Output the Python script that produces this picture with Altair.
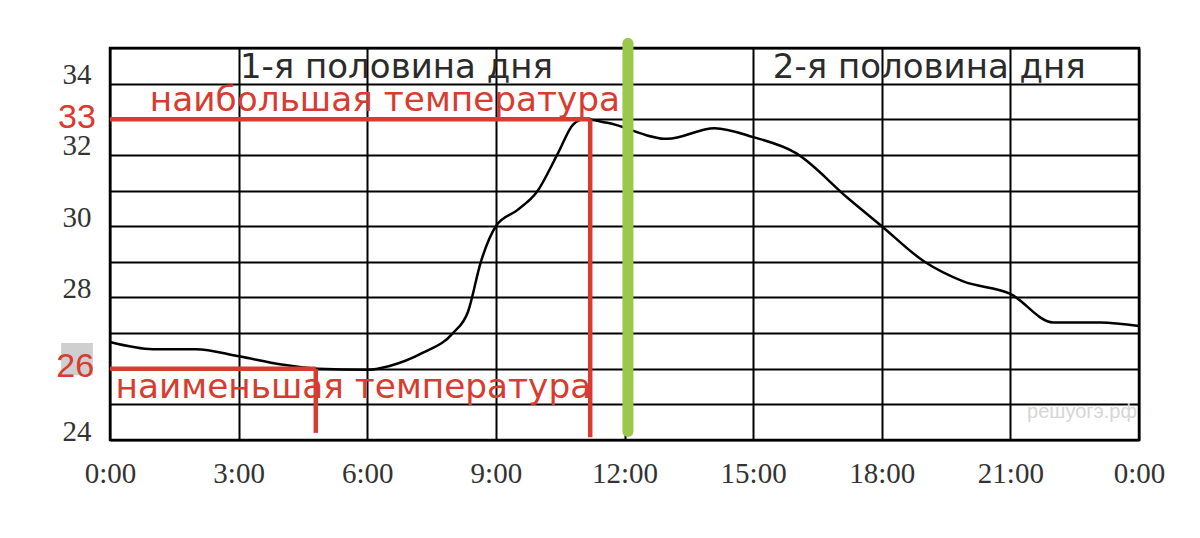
import altair as alt
import pandas as pd

# temperature curve (hour, °C)
hours = [0, 1, 2, 3, 4, 4.85, 6, 6.5, 7.3, 8.0, 8.35, 8.65, 9.0, 9.5, 9.95, 10.45, 10.8, 11.05,
         11.6, 13.0, 14.1, 15.0, 16.0, 17.2, 18.0, 19.0, 19.9, 21.0, 22.0, 23.1, 24.0]
temps = [26.75, 26.55, 26.55, 26.35, 26.12, 26.0, 25.97, 26.07, 26.45, 27.0, 27.6, 29.0, 30.0, 30.45,
         30.95, 32.05, 32.85, 33.0, 32.9, 32.45, 32.75, 32.5, 32.05, 30.8, 30.0, 29.0, 28.45, 28.1,
         27.3, 27.3, 27.2]

x_ticks = [0, 3, 6, 9, 12, 15, 18, 21, 24]
y_ticks = list(range(24, 36))

# annotation segments: x, x2, y, y2
red_x = [0, 11.2, 0, 4.8]
red_x2 = [11.2, 11.2, 4.8, 4.8]
red_y = [33, 33, 26, 26]
red_y2 = [33, 24.08, 26, 24.2]

green_x = [12.08]
green_y = [24.24]
green_y2 = [35.13]

half_text = ["1-я половина дня", "2-я половина дня"]
half_x = [3.03, 15.46]
half_y = [34.17, 34.17]

red_text = ["наибольшая температура", "наименьшая температура"]
red_text_x = [0.93, 0.13]
red_text_y = [33.24, 25.18]

num_text = ["33", "26"]
num_x = [-0.33, -0.37]
num_y = [32.75, 25.77]

box_x, box_x2 = [-1.14], [-0.4]
box_y, box_y2 = [25.82], [26.72]

wm_text = ["решуогэ.рф"]
wm_x = [21.39]
wm_y = [24.79]

RED = "#d83b2f"

xs = alt.Scale(domain=[0, 24], nice=False, zero=False)
ys = alt.Scale(domain=[24, 35], nice=False, zero=False)

x_axis = alt.Axis(values=x_ticks, labelExpr="(datum.value % 24) + ':00'", grid=True,
                  gridColor="black", gridWidth=2, gridOpacity=1, domain=False, ticks=False,
                  labelFont="Liberation Serif", labelFontSize=29, labelColor="#333333",
                  labelPadding=19, labelFlush=False, labelBound=False, labelOverlap=False,
                  title=None)
y_axis = alt.Axis(values=y_ticks,
                  labelExpr="(datum.value % 2 == 0 && datum.value < 35 && datum.value != 26) ? datum.label : ''",
                  grid=True, gridColor="black", gridWidth=2, gridOpacity=1, domain=False,
                  ticks=False, labelFont="Liberation Serif", labelFontSize=29,
                  labelColor="#333333", labelPadding=19, labelOffset=-9, labelFlush=False,
                  labelBound=False, labelOverlap=False, title=None)


def X(field):
    return alt.X(field, scale=xs, axis=x_axis)


def Y(field):
    return alt.Y(field, scale=ys, axis=y_axis)


curve_df = pd.DataFrame({"h": hours, "t": temps})

curve = alt.Chart(curve_df).mark_line(color="black", strokeWidth=2.5, interpolate="monotone").encode(
    x=X("h:Q"), y=Y("t:Q"))

box = alt.Chart(pd.DataFrame({"h": box_x, "x2": box_x2, "t": box_y, "y2": box_y2})).mark_rect(
    color="#cfcfcf").encode(x=X("h:Q"), x2="x2:Q", y=Y("t:Q"), y2="y2:Q")

red_lines = alt.Chart(pd.DataFrame({"h": red_x, "x2": red_x2, "t": red_y, "y2": red_y2})).mark_rule(
    color=RED, strokeWidth=4.5).encode(x=X("h:Q"), x2="x2:Q", y=Y("t:Q"), y2="y2:Q")

green = alt.Chart(pd.DataFrame({"h": green_x, "t": green_y, "y2": green_y2})).mark_rule(
    color="#9bc84a", strokeWidth=11, strokeCap="round").encode(x=X("h:Q"), y=Y("t:Q"), y2="y2:Q")

halves = alt.Chart(pd.DataFrame({"h": half_x, "t": half_y, "s": half_text})).mark_text(
    align="left", baseline="alphabetic", font="DejaVu Sans", fontSize=34, color="#2b2b2b").encode(
    x=X("h:Q"), y=Y("t:Q"), text="s:N")

reds = alt.Chart(pd.DataFrame({"h": red_text_x, "t": red_text_y, "s": red_text})).mark_text(
    align="left", baseline="alphabetic", font="DejaVu Sans", fontSize=34.3, color=RED).encode(
    x=X("h:Q"), y=Y("t:Q"), text="s:N")

nums = alt.Chart(pd.DataFrame({"h": num_x, "t": num_y, "s": num_text})).mark_text(
    align="right", baseline="alphabetic", font="Liberation Sans", fontSize=34, color=RED).encode(
    x=X("h:Q"), y=Y("t:Q"), text="s:N")

wm = alt.Chart(pd.DataFrame({"h": wm_x, "t": wm_y, "s": wm_text})).mark_text(
    align="left", baseline="middle", font="Liberation Sans", fontSize=20, color="#d6d6d6").encode(
    x=X("h:Q"), y=Y("t:Q"), text="s:N")

chart = alt.layer(curve, box, wm, red_lines, green, halves, reds, nums).properties(
    width=1029, height=392,
    autosize=alt.AutoSizeParams(type="none"),
    padding={"left": 102, "top": 40, "right": 53, "bottom": 90},
    background="white",
).configure_view(stroke="black", strokeWidth=2.5)

chart.save("out.html", embed_options={"renderer": "svg", "actions": False})
